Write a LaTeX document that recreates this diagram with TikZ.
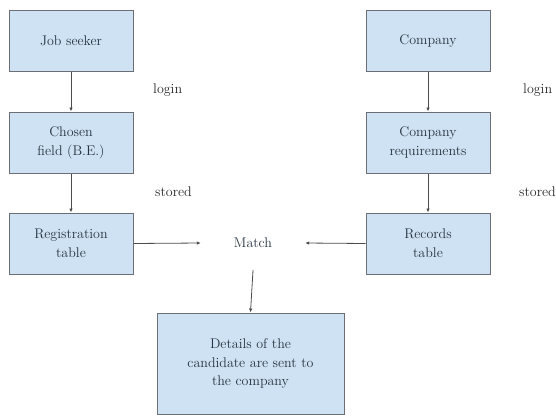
\documentclass[tikz,border=0pt]{standalone}
\usetikzlibrary{arrows.meta, positioning}

\definecolor{boxfill}{HTML}{CFE2F3}
\definecolor{boxline}{HTML}{6B6F74}
\definecolor{boxtext}{HTML}{26323F}

\begin{document}
\begin{tikzpicture}[
    x=1pt, y=-1pt,
    font=\fontsize{14}{18.7}\selectfont,
    box/.style={draw=boxline, line width=1pt, fill=boxfill, text=boxtext, align=center, minimum width=124pt, minimum height=61pt, inner sep=2pt},
    note/.style={anchor=west, text=black!85, inner sep=0pt},
    arrow/.style={-{Latex[length=4pt, width=3.5pt]}, draw=black!70, line width=0.8pt}
]
  \useasboundingbox (0,0) rectangle (556,415);

  % left column
  \node[box] (seeker) at (71,40.5) {Job seeker};
  \node[box, below=40pt of seeker] (field) {Chosen\\field (B.E.)};
  \node[box, below=39pt of field] (regtable) {Registration\\table};

  % right column
  \node[box] (company) at (428,40.5) {Company};
  \node[box, below=40pt of company] (needs) {Company\\requirements};
  \node[box, below=39pt of needs] (records) {Records\\table};

  % middle
  \node[text=boxtext, minimum width=104pt, minimum height=54pt, inner sep=0pt] (match) at (253,243) {Match};
  \node[box, minimum width=187pt, minimum height=101pt] (details) at (250.5,363.5) {Details of the\\candidate are sent to\\the company};

  % side notes
  \node[note] (login1) at (153,90) {login};
  \node[note] (stored1) at (155,192) {stored};
  \node[note] (login2) at (523,90) {login};
  \node[note] (stored2) at (519,192) {stored};

  \draw[arrow] (seeker) -- (field);
  \draw[arrow] (field) -- (regtable);
  \draw[arrow] (company) -- (needs);
  \draw[arrow] (needs) -- (records);
  \draw[arrow] (regtable.east) -- (match.west);
  \draw[arrow] (records.west) -- (match.east);
  \draw[arrow] (match.south) -- (details.north);
\end{tikzpicture}
\end{document}
